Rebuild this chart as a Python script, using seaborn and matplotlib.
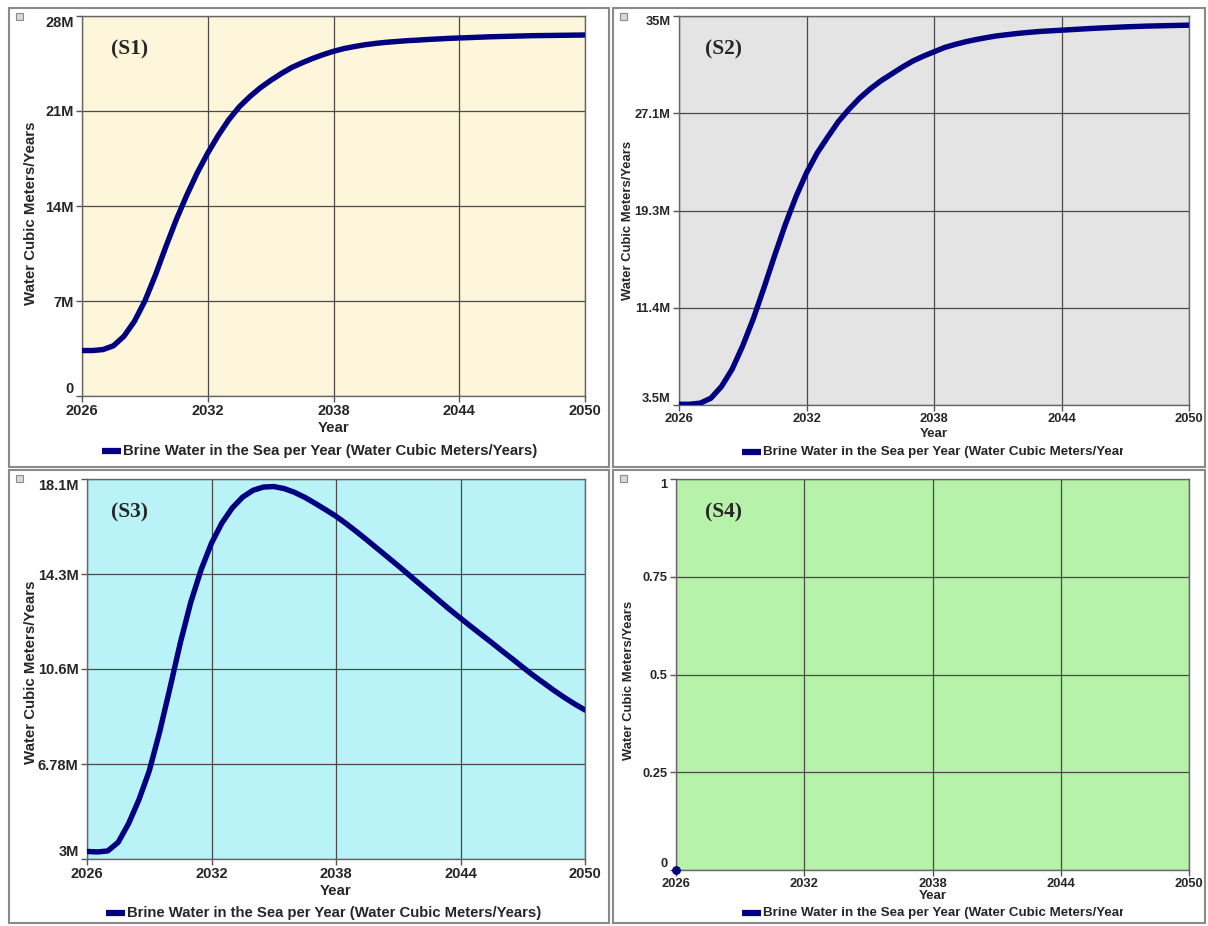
import matplotlib
matplotlib.use("Agg")
import matplotlib.pyplot as plt
import seaborn as sns
import pandas as pd
from matplotlib.lines import Line2D
from matplotlib.patches import Rectangle
from matplotlib.transforms import Bbox, TransformedBbox

# ---------------- data ----------------
# half-year sample times 2026.0 ... 2050.0
years = [2026 + 0.5 * i for i in range(49)]

s1_values_m = [3.35, 3.35, 3.42, 3.70, 4.40, 5.50, 7.00, 8.90, 11.0, 13.0,
               14.8, 16.45, 17.9, 19.2, 20.35, 21.3, 22.05, 22.7, 23.25, 23.75,
               24.2, 24.55, 24.87, 25.15, 25.4, 25.6, 25.75, 25.88, 25.98, 26.06,
               26.12, 26.18, 26.22, 26.27, 26.31, 26.35, 26.38, 26.41, 26.44, 26.47,
               26.49, 26.51, 26.53, 26.55, 26.56, 26.57, 26.58, 26.59, 26.6]
s2_values_m = [3.56, 3.56, 3.65, 4.05, 5.0, 6.4, 8.3, 10.5, 13.0, 15.6,
               18.1, 20.35, 22.3, 23.9, 25.2, 26.45, 27.45, 28.35, 29.1, 29.75,
               30.3, 30.85, 31.35, 31.75, 32.1, 32.45, 32.7, 32.92, 33.1, 33.26,
               33.4, 33.5, 33.6, 33.68, 33.75, 33.8, 33.85, 33.9, 33.95, 34.0,
               34.04, 34.08, 34.12, 34.15, 34.18, 34.2, 34.22, 34.24, 34.26]
s3_values_m = [3.3, 3.28, 3.32, 3.66, 4.4, 5.35, 6.5, 8.05, 9.8, 11.6,
               13.2, 14.5, 15.55, 16.35, 16.95, 17.38, 17.65, 17.78, 17.8, 17.72,
               17.57, 17.37, 17.13, 16.88, 16.62, 16.32, 16.0, 15.67, 15.33, 14.99,
               14.65, 14.3, 13.95, 13.6, 13.25, 12.9, 12.57, 12.24, 11.92, 11.6,
               11.27, 10.95, 10.62, 10.3, 10.0, 9.7, 9.42, 9.16, 8.92]
s4_years = [2026]
s4_values = [0.0]

x_ticks = [2026, 2032, 2038, 2044, 2050]
x_tick_labels = ["2026", "2032", "2038", "2044", "2050"]

s1_yticks = [0, 7e6, 14e6, 21e6, 28e6]
s1_ylabels = ["0", "7M", "14M", "21M", "28M"]
s2_yticks = [3.5e6, 11.375e6, 19.25e6, 27.125e6, 35e6]
s2_ylabels = ["3.5M", "11.4M", "19.3M", "27.1M", "35M"]
s3_yticks = [3e6, 6.775e6, 10.55e6, 14.325e6, 18.1e6]
s3_ylabels = ["3M", "6.78M", "10.6M", "14.3M", "18.1M"]
s4_yticks = [0, 0.25, 0.5, 0.75, 1]
s4_ylabels = ["0", "0.25", "0.5", "0.75", "1"]

panel_titles = ["(S1)", "(S2)", "(S3)", "(S4)"]
x_label = "Year"
y_label = "Water Cubic Meters/Years"
legend_label = "Brine Water in the Sea per Year (Water Cubic Meters/Years)"

# ---------------- style ----------------
sns.set_theme(style="white")
plt.rcParams["font.family"] = ["Liberation Sans", "DejaVu Sans"]

W, H = 1208, 926
fig = plt.figure(figsize=(W / 100, H / 100), dpi=100)
fig.patch.set_facecolor("white")

NAVY = "#000080"
GRID = "#4a4a4a"


def fx(x):
    return x / W


def fy(y):
    return 1 - y / H


panels = [
    dict(x=years, y=[v * 1e6 for v in s1_values_m], yt=s1_yticks, yl=s1_ylabels,
         box=(82, 16, 585, 396), frame=(9, 8, 609, 467), face="#fdf6da",
         fs=10.5, yfs=10.8, ylab=(31, 213), title_xy=(111, 49), xl_y=428,
         leg_y=451, leg_x=102, lfs=10.7, clip=None),
    dict(x=years, y=[v * 1e6 for v in s2_values_m], yt=s2_yticks, yl=s2_ylabels,
         box=(679, 16, 1189, 405), frame=(613, 8, 1205, 467), face="#e4e4e4",
         fs=9.3, yfs=9.4, ylab=(628, 220), title_xy=(705, 49), xl_y=434,
         leg_y=452, leg_x=742, lfs=9.6, clip=1123),
    dict(x=years, y=[v * 1e6 for v in s3_values_m], yt=s3_yticks, yl=s3_ylabels,
         box=(87, 479, 585, 859), frame=(9, 470, 609, 923), face="#b9f2f7",
         fs=10.5, yfs=10.8, ylab=(31, 672), title_xy=(111, 512), xl_y=891,
         leg_y=913, leg_x=106, lfs=10.7, clip=None),
    dict(x=s4_years, y=s4_values, yt=s4_yticks, yl=s4_ylabels,
         box=(676, 479, 1189, 870), frame=(613, 470, 1205, 923), face="#b6f2a9",
         fs=9.3, yfs=9.4, ylab=(629, 680), title_xy=(705, 512), xl_y=896,
         leg_y=913, leg_x=742, lfs=9.6, clip=1123),
]

for i, p in enumerate(panels):
    # panel frame
    fl, ft, fr, fb = p["frame"]
    fig.add_artist(Rectangle((fx(fl), fy(fb)), fx(fr) - fx(fl), fy(ft) - fy(fb),
                             transform=fig.transFigure, fill=False,
                             edgecolor="#8a8a8a", linewidth=1.5))
    # tiny icon
    fig.add_artist(Rectangle((fx(fl + 7), fy(ft + 12)), fx(7), 7 / H,
                             transform=fig.transFigure, facecolor="#d8d8d8",
                             edgecolor="#8a8a8a", linewidth=0.8))

    l, t, r, b = p["box"]
    ax = fig.add_axes([fx(l), fy(b), fx(r) - fx(l), fy(t) - fy(b)])
    ax.set_facecolor(p["face"])

    df = pd.DataFrame({"Year": p["x"], "Value": p["y"]})
    if len(df) > 1:
        sns.lineplot(data=df, x="Year", y="Value", ax=ax, color=NAVY,
                     linewidth=3.9, legend=False, zorder=3)
    else:
        sns.scatterplot(data=df, x="Year", y="Value", ax=ax, color=NAVY,
                        s=34, legend=False, zorder=3, clip_on=False,
                        edgecolor=NAVY)

    ax.set_xlim(x_ticks[0], x_ticks[-1])
    ax.set_ylim(p["yt"][0], p["yt"][-1])
    ax.set_xticks(x_ticks)
    ax.set_xticklabels(x_tick_labels, fontsize=p["fs"], fontweight="bold")
    ax.set_yticks(p["yt"])
    ax.set_yticklabels(p["yl"], fontsize=p["fs"], fontweight="bold")
    ylabs = ax.get_yticklabels()
    ylabs[0].set_va("bottom")
    ylabs[-1].set_va("top")
    ax.tick_params(axis="both", which="both", direction="out", length=4,
                   width=1, color="#555555", pad=2, left=True, bottom=True)
    ax.grid(True, color=GRID, linewidth=0.9)
    for s in ax.spines.values():
        s.set_visible(True)
        s.set_color("#666666")
        s.set_linewidth(1.0)
    ax.set_xlabel("")
    ax.set_ylabel(y_label, fontsize=p["yfs"], fontweight="bold", va="center")
    lx_px, ly_px = p["ylab"]
    ax.yaxis.set_label_coords((lx_px - l) / (r - l), (b - ly_px) / (b - t))

    # x label
    fig.text(fx((l + r) / 2), fy(p["xl_y"]), x_label, ha="center", va="center",
             fontsize=p["fs"] + 0.3, fontweight="bold")

    # panel title
    tx, ty = p["title_xy"]
    fig.text(fx(tx), fy(ty), panel_titles[i], ha="left", va="center",
             fontsize=15.5, fontweight="bold", family="Liberation Serif")

    # legend
    lx, ly = p["leg_x"], p["leg_y"]
    fig.add_artist(Line2D([fx(lx), fx(lx + 19)], [fy(ly), fy(ly)],
                          transform=fig.transFigure, color=NAVY, linewidth=4.5,
                          solid_capstyle="butt"))
    txt = fig.text(fx(lx + 21), fy(ly), legend_label, ha="left", va="center",
                   fontsize=p["lfs"], fontweight="bold")
    if p["clip"] is not None:
        cb = TransformedBbox(Bbox([[0, 0], [fx(p["clip"]), 1]]), fig.transFigure)
        txt.set_clip_box(cb)
        txt.set_clip_on(True)

fig.savefig("out.png", dpi=100, facecolor="white")
